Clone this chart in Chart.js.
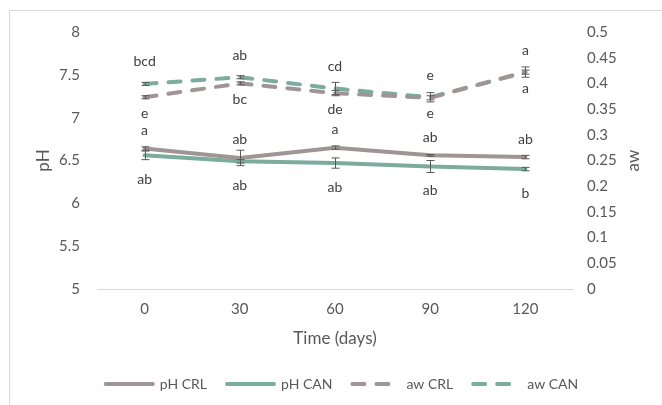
<!DOCTYPE html>
<html>
<head>
<meta charset="utf-8">
<script src="https://cdn.jsdelivr.net/npm/chart.js@4"></script>
<style>
  html, body { margin: 0; padding: 0; background: #fff; }
  #wrap { width: 662px; height: 405px; }
</style>
</head>
<body>
<div id="wrap"><canvas id="lineChart" width="662" height="405"></canvas></div>
<script>
// Datos
const days = ['0', '30', '60', '90', '120'];

const phCrl = [6.64, 6.53, 6.65, 6.56, 6.54];
const phCan = [6.56, 6.49, 6.47, 6.43, 6.40];
const awCrl = [0.373, 0.400, 0.381, 0.372, 0.422];
const awCan = [0.399, 0.412, 0.390, 0.373, 0.422];

// Barras de error (desviación)
const phCrlErr = [0.02, 0.09, 0.02, 0.01, 0.02];
const phCanErr = [0.05, 0.02, 0.06, 0.07, 0.02];
const awCrlErr = [0.003, 0.003, 0.005, 0.004, 0.004];
const awCanErr = [0.003, 0.003, 0.012, 0.009, 0.010];

// Letras de significancia
const phCrlLetters = ['a', 'ab', 'a', 'ab', 'ab'];
const phCanLetters = ['ab', 'ab', 'ab', 'ab', 'b'];
const awCrlLetters = ['e', 'bc', 'de', 'e', 'a'];
const awCanLetters = ['bcd', 'ab', 'cd', 'e', 'a'];

// Etiquetas de los ejes
const phTicks = [5, 5.5, 6, 6.5, 7, 7.5, 8];
const awTicks = [0, 0.05, 0.1, 0.15, 0.2, 0.25, 0.3, 0.35, 0.4, 0.45, 0.5];

const GRAY = '#a09595';
const TEAL = '#7bac9e';
const FONT = 'Lato';
const TXT = '#595959';

function drawVerticalTitle(ctx, text, x, y) {
    ctx.save();
    ctx.translate(x, y);
    ctx.rotate(-Math.PI / 2);
    ctx.fillStyle = TXT;
    ctx.font = '17px ' + FONT;
    ctx.textAlign = 'center';
    ctx.textBaseline = 'middle';
    ctx.fillText(text, 0, 0);
    ctx.restore();
}

// Plugin: marco, barras de error, letras y títulos de los ejes Y
const extras = {
    id: 'extras',
    beforeDraw(chart) {
        const ctx = chart.ctx;
        ctx.save();
        ctx.strokeStyle = '#d9d9d9';
        ctx.lineWidth = 1;
        ctx.beginPath();
        ctx.moveTo(9.5, 405);
        ctx.lineTo(9.5, 10.5);
        ctx.lineTo(662, 10.5);
        ctx.stroke();
        ctx.restore();
    },
    afterDatasetsDraw(chart) {
        const ctx = chart.ctx;
        ctx.save();
        chart.data.datasets.forEach((ds, i) => {
            const meta = chart.getDatasetMeta(i);
            const scale = chart.scales[ds.yAxisID];
            meta.data.forEach((pt, j) => {
                const v = ds.data[j];
                const e = ds.errors[j];
                const y1 = scale.getPixelForValue(v - e);
                const y2 = scale.getPixelForValue(v + e);
                const x = Math.round(pt.x) + 0.5;
                ctx.strokeStyle = '#595959';
                ctx.lineWidth = 1;
                ctx.setLineDash([]);
                ctx.beginPath();
                ctx.moveTo(x, y1);
                ctx.lineTo(x, y2);
                ctx.moveTo(x - 4, y1);
                ctx.lineTo(x + 4, y1);
                ctx.moveTo(x - 4, y2);
                ctx.lineTo(x + 4, y2);
                ctx.stroke();

                ctx.fillStyle = '#404040';
                ctx.font = '14px ' + FONT;
                ctx.textAlign = 'center';
                ctx.textBaseline = 'middle';
                ctx.fillText(ds.letters[j], pt.x, pt.y + ds.letterOffset);
            });
        });
        ctx.restore();
    },
    afterDraw(chart) {
        const area = chart.chartArea;
        const midY = (area.top + area.bottom) / 2;
        drawVerticalTitle(chart.ctx, 'pH', 44, midY);
        drawVerticalTitle(chart.ctx, 'aw', 634, midY);
    }
};

function fmt(v) {
    return String(Number(v.toFixed(2)));
}

document.addEventListener('DOMContentLoaded', () => {
    const ctx = document.getElementById('lineChart').getContext('2d');
    new Chart(ctx, {
        type: 'line',
        data: {
            labels: days,
            datasets: [
                {
                    label: 'pH CRL', data: phCrl, errors: phCrlErr, letters: phCrlLetters, letterOffset: -18,
                    yAxisID: 'yPh', borderColor: GRAY, backgroundColor: GRAY, borderWidth: 4
                },
                {
                    label: 'pH CAN', data: phCan, errors: phCanErr, letters: phCanLetters, letterOffset: 24,
                    yAxisID: 'yPh', borderColor: TEAL, backgroundColor: TEAL, borderWidth: 4
                },
                {
                    label: 'aw CRL', data: awCrl, errors: awCrlErr, letters: awCrlLetters, letterOffset: 16,
                    yAxisID: 'yAw', borderColor: GRAY, backgroundColor: GRAY, borderWidth: 4, borderDash: [12, 12]
                },
                {
                    label: 'aw CAN', data: awCan, errors: awCanErr, letters: awCanLetters, letterOffset: -22,
                    yAxisID: 'yAw', borderColor: TEAL, backgroundColor: TEAL, borderWidth: 4, borderDash: [12, 12]
                }
            ]
        },
        options: {
            responsive: false,
            animation: false,
            layout: { padding: { top: 32, left: 22, right: 0, bottom: 4 } },
            elements: {
                point: { radius: 0 },
                line: { tension: 0, borderCapStyle: 'round', borderJoinStyle: 'round' }
            },
            scales: {
                x: {
                    offset: true,
                    grid: { display: false, drawTicks: false, offset: true },
                    border: { display: true, color: '#d9d9d9', width: 1 },
                    ticks: { color: TXT, font: { family: FONT, size: 15 }, padding: 11 },
                    title: {
                        display: true, text: 'Time (days)', color: TXT,
                        font: { family: FONT, size: 17 }, padding: { top: 4, bottom: 8 }
                    },
                    afterFit: (s) => { s.height = 68; }
                },
                yPh: {
                    position: 'left',
                    min: 5, max: 8,
                    afterBuildTicks: (s) => { s.ticks = phTicks.map(v => ({ value: v })); },
                    grid: { display: false, drawTicks: false },
                    border: { display: false },
                    ticks: { color: TXT, font: { family: FONT, size: 15 }, padding: 17, callback: fmt },
                    afterFit: (s) => { s.width = 75; }
                },
                yAw: {
                    position: 'right',
                    min: 0, max: 0.5,
                    afterBuildTicks: (s) => { s.ticks = awTicks.map(v => ({ value: v })); },
                    grid: { display: false, drawTicks: false },
                    border: { display: false },
                    ticks: { color: TXT, font: { family: FONT, size: 15 }, padding: 14, callback: fmt },
                    afterFit: (s) => { s.width = 89; }
                }
            },
            plugins: {
                legend: {
                    position: 'bottom',
                    labels: {
                        color: TXT,
                        font: { family: FONT, size: 14 },
                        usePointStyle: true,
                        pointStyle: 'line',
                        pointStyleWidth: 47,
                        boxHeight: 8,
                        padding: 20,
                        generateLabels: (chart) => {
                            const items = Chart.defaults.plugins.legend.labels.generateLabels(chart);
                            return items.map((item) => {
                                const ds = chart.data.datasets[item.datasetIndex];
                                item.lineDash = ds.borderDash || [];
                                item.lineWidth = 4;
                                item.lineCap = 'round';
                                return item;
                            });
                        }
                    }
                },
                tooltip: { enabled: false }
            }
        },
        plugins: [extras]
    });
});
</script>
</body>
</html>
